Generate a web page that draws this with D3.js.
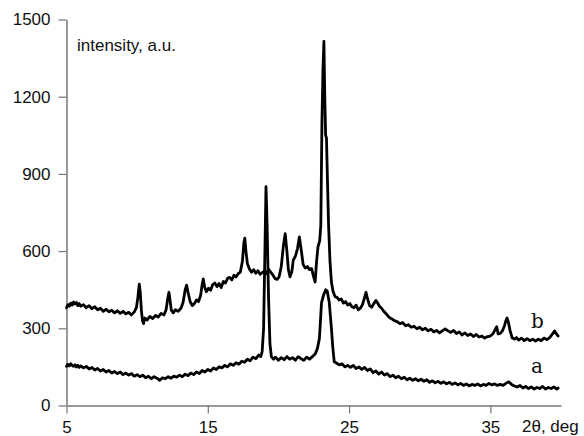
<!DOCTYPE html>
<html>
<head>
<meta charset="utf-8">
<script src="https://cdn.jsdelivr.net/npm/d3@7"></script>
<style>
  body { margin: 0; background: #fff; }
  svg { display: block; }
</style>
</head>
<body>
<div id="chart"></div>
<script>
// axis ticks
const xTicks = [5, 15, 25, 35];
const yTicks = [0, 300, 600, 900, 1200, 1500];

// curve b (upper trace): [2theta, intensity]
const seriesB = [
  [5.0, 380], [5.1, 392], [5.2, 386], [5.3, 398], [5.4, 390], [5.5, 402], [5.6, 395], [5.7, 400],
  [5.8, 388], [5.9, 396], [6.0, 386], [6.2, 392], [6.4, 380], [6.6, 388], [6.8, 376], [7.0, 384],
  [7.2, 372], [7.4, 378], [7.6, 366], [7.8, 374], [8.0, 364], [8.2, 370], [8.4, 360], [8.6, 368],
  [8.8, 358], [9.0, 366], [9.2, 356], [9.4, 362], [9.6, 352], [9.8, 364], [9.95, 380], [10.05, 420],
  [10.15, 472], [10.22, 440], [10.3, 370], [10.38, 330], [10.45, 318], [10.55, 340], [10.7, 332],
  [10.9, 346], [11.1, 338], [11.3, 350], [11.5, 344], [11.7, 358], [11.9, 352], [12.05, 372],
  [12.15, 410], [12.25, 440], [12.33, 408], [12.42, 370], [12.55, 360], [12.7, 372], [12.9, 366],
  [13.1, 378], [13.25, 400], [13.4, 450], [13.5, 468], [13.6, 440], [13.75, 404], [13.9, 388],
  [14.05, 396], [14.2, 410], [14.35, 404], [14.5, 430], [14.6, 470], [14.68, 492], [14.78, 460],
  [14.9, 442], [15.05, 456], [15.2, 448], [15.35, 470], [15.5, 476], [15.65, 462], [15.8, 474],
  [15.95, 458], [16.1, 482], [16.25, 476], [16.4, 494], [16.55, 498], [16.7, 488], [16.85, 506],
  [17.0, 500], [17.15, 512], [17.3, 518], [17.45, 560], [17.55, 630], [17.62, 650], [17.7, 600],
  [17.8, 552], [17.95, 530], [18.1, 518], [18.25, 528], [18.4, 514], [18.55, 524], [18.7, 510],
  [18.85, 516], [19.0, 522], [19.15, 512], [19.3, 530], [19.45, 518], [19.6, 508], [19.75, 494],
  [19.9, 490], [20.05, 500], [20.2, 540], [20.35, 620], [20.48, 668], [20.6, 600], [20.7, 530],
  [20.82, 500], [20.95, 520], [21.05, 565], [21.2, 580], [21.35, 610], [21.48, 655], [21.6, 610],
  [21.75, 548], [21.9, 534], [22.05, 540], [22.2, 528], [22.35, 532], [22.5, 498], [22.6, 480],
  [22.7, 560], [22.8, 616], [22.92, 640], [23.0, 700], [23.08, 1100], [23.15, 1300], [23.22, 1415],
  [23.28, 1200], [23.34, 1050], [23.4, 1040], [23.46, 900], [23.55, 700], [23.65, 560], [23.75, 480],
  [23.86, 445], [24.0, 424], [24.15, 420], [24.3, 410], [24.45, 414], [24.6, 398], [24.75, 404],
  [24.9, 390], [25.05, 396], [25.2, 384], [25.35, 380], [25.5, 390], [25.65, 372], [25.8, 378],
  [25.95, 392], [26.1, 420], [26.2, 440], [26.3, 416], [26.45, 388], [26.6, 382], [26.75, 396],
  [26.9, 408], [27.0, 400], [27.15, 386], [27.3, 378], [27.45, 366], [27.6, 358], [27.75, 348],
  [27.9, 340], [28.05, 336], [28.2, 330], [28.4, 326], [28.6, 318], [28.8, 322], [29.0, 310],
  [29.2, 314], [29.4, 304], [29.6, 308], [29.8, 298], [30.0, 304], [30.2, 294], [30.4, 300],
  [30.6, 290], [30.8, 296], [31.0, 286], [31.2, 292], [31.4, 282], [31.6, 290], [31.8, 298],
  [32.0, 290], [32.2, 284], [32.4, 292], [32.6, 280], [32.8, 286], [33.0, 274], [33.2, 282],
  [33.4, 272], [33.6, 278], [33.8, 268], [34.0, 276], [34.2, 266], [34.4, 270], [34.6, 262],
  [34.8, 268], [35.0, 270], [35.2, 280], [35.35, 296], [35.45, 306], [35.55, 278], [35.7, 280],
  [35.85, 290], [36.0, 310], [36.1, 330], [36.18, 340], [36.28, 322], [36.4, 290], [36.55, 262],
  [36.7, 258], [36.85, 264], [37.0, 254], [37.2, 262], [37.4, 252], [37.6, 260], [37.8, 252],
  [38.0, 258], [38.2, 250], [38.4, 258], [38.6, 252], [38.8, 262], [39.0, 256], [39.2, 264],
  [39.4, 278], [39.55, 290], [39.65, 280], [39.8, 270]
];

// curve a (lower trace)
const seriesA = [
  [5.0, 152], [5.1, 160], [5.2, 154], [5.3, 162], [5.4, 156], [5.5, 152], [5.6, 158], [5.7, 150],
  [5.8, 156], [5.9, 148], [6.0, 154], [6.2, 146], [6.4, 152], [6.6, 142], [6.8, 148], [7.0, 138],
  [7.2, 144], [7.4, 134], [7.6, 140], [7.8, 130], [8.0, 136], [8.2, 126], [8.4, 132], [8.6, 124],
  [8.8, 130], [9.0, 120], [9.2, 126], [9.4, 118], [9.6, 124], [9.8, 114], [10.0, 120], [10.2, 112],
  [10.4, 118], [10.6, 108], [10.8, 114], [11.0, 104], [11.2, 112], [11.4, 106], [11.6, 98],
  [11.8, 108], [12.0, 104], [12.2, 112], [12.4, 106], [12.6, 114], [12.8, 110], [13.0, 118],
  [13.2, 112], [13.4, 122], [13.6, 116], [13.8, 126], [14.0, 120], [14.2, 130], [14.4, 124],
  [14.6, 136], [14.8, 130], [15.0, 140], [15.2, 134], [15.4, 146], [15.6, 140], [15.8, 150],
  [16.0, 146], [16.2, 156], [16.4, 150], [16.6, 162], [16.8, 156], [17.0, 166], [17.2, 160],
  [17.4, 172], [17.6, 168], [17.8, 180], [18.0, 174], [18.2, 188], [18.4, 182], [18.6, 196],
  [18.75, 190], [18.85, 210], [18.95, 300], [19.05, 620], [19.12, 850], [19.2, 700], [19.3, 420],
  [19.4, 240], [19.5, 190], [19.65, 180], [19.8, 188], [20.0, 176], [20.2, 186], [20.4, 178],
  [20.6, 190], [20.8, 180], [21.0, 186], [21.2, 176], [21.4, 190], [21.6, 182], [21.8, 176],
  [22.0, 188], [22.2, 180], [22.4, 190], [22.6, 200], [22.75, 220], [22.9, 260], [23.05, 400],
  [23.2, 430], [23.35, 450], [23.45, 445], [23.6, 400], [23.75, 300], [23.85, 225], [23.95, 170],
  [24.1, 165], [24.3, 158], [24.5, 162], [24.7, 150], [24.9, 156], [25.1, 148], [25.3, 156],
  [25.5, 144], [25.7, 150], [25.9, 140], [26.1, 148], [26.3, 136], [26.5, 142], [26.7, 128],
  [26.9, 134], [27.1, 122], [27.3, 130], [27.5, 118], [27.7, 124], [27.9, 112], [28.1, 118],
  [28.3, 108], [28.5, 114], [28.7, 104], [28.9, 110], [29.1, 100], [29.3, 106], [29.5, 98],
  [29.7, 104], [29.9, 96], [30.1, 102], [30.3, 94], [30.5, 100], [30.7, 90], [30.9, 96],
  [31.1, 88], [31.3, 94], [31.5, 86], [31.7, 92], [31.9, 84], [32.1, 90], [32.3, 82], [32.5, 88],
  [32.7, 80], [32.9, 86], [33.1, 78], [33.3, 84], [33.5, 76], [33.7, 82], [33.9, 78], [34.1, 84],
  [34.3, 76], [34.5, 82], [34.7, 78], [34.9, 86], [35.1, 80], [35.3, 84], [35.5, 78], [35.7, 82],
  [35.9, 78], [36.1, 86], [36.3, 92], [36.5, 82], [36.7, 76], [36.9, 72], [37.1, 78], [37.3, 68],
  [37.5, 74], [37.7, 66], [37.9, 72], [38.1, 64], [38.3, 70], [38.5, 66], [38.7, 74], [38.9, 64],
  [39.1, 70], [39.3, 66], [39.5, 72], [39.7, 64], [39.8, 68]
];

const width = 584, height = 436;
const axisColor = '#777';

const svg = d3.select('#chart').append('svg')
  .attr('width', width)
  .attr('height', height);

const x = d3.scaleLinear().domain([5, 40]).range([66.5, 561]);
const y = d3.scaleLinear().domain([0, 1500]).range([405.5, 19.5]);

// y axis
const yAxis = svg.append('g')
  .attr('transform', `translate(${x(5)},0)`)
  .call(d3.axisLeft(y).tickValues(yTicks).tickFormat(d3.format('d'))
    .tickSize(8).tickSizeOuter(0).tickPadding(8));

// x axis
const xAxis = svg.append('g')
  .attr('transform', `translate(0,${y(0)})`)
  .call(d3.axisBottom(x).tickValues(xTicks).tickFormat(d3.format('d'))
    .tickSize(8).tickSizeOuter(0).tickPadding(7));

[yAxis, xAxis].forEach(g => {
  g.select('.domain').attr('stroke', axisColor).attr('stroke-width', 1.5);
  g.selectAll('.tick line').attr('stroke', axisColor).attr('stroke-width', 1.2);
  g.selectAll('.tick text')
    .attr('fill', '#111')
    .style('font-family', '"Liberation Sans", Arial, sans-serif')
    .style('font-size', '17px');
});

// traces
const line = d3.line().x(d => x(d[0])).y(d => y(d[1]));

[seriesA, seriesB].forEach(s => {
  svg.append('path')
    .datum(s)
    .attr('d', line)
    .attr('fill', 'none')
    .attr('stroke', '#000')
    .attr('stroke-width', 2.8)
    .attr('stroke-linejoin', 'round')
    .attr('stroke-linecap', 'round');
});

// labels
svg.append('text')
  .attr('x', 77).attr('y', 51)
  .style('font-family', '"Liberation Sans", Arial, sans-serif')
  .style('font-size', '17px')
  .attr('fill', '#111')
  .text('intensity, a.u.');

svg.append('text')
  .attr('x', 522).attr('y', 432)
  .style('font-family', '"Liberation Sans", Arial, sans-serif')
  .style('font-size', '17px')
  .attr('fill', '#111')
  .text('2θ, deg');

svg.append('text')
  .attr('x', 531).attr('y', 328)
  .style('font-family', '"DejaVu Serif", serif')
  .style('font-size', '20px')
  .attr('fill', '#111')
  .text('b');

svg.append('text')
  .attr('x', 531).attr('y', 373)
  .style('font-family', '"DejaVu Serif", serif')
  .style('font-size', '20px')
  .attr('fill', '#111')
  .text('a');
</script>
</body>
</html>
